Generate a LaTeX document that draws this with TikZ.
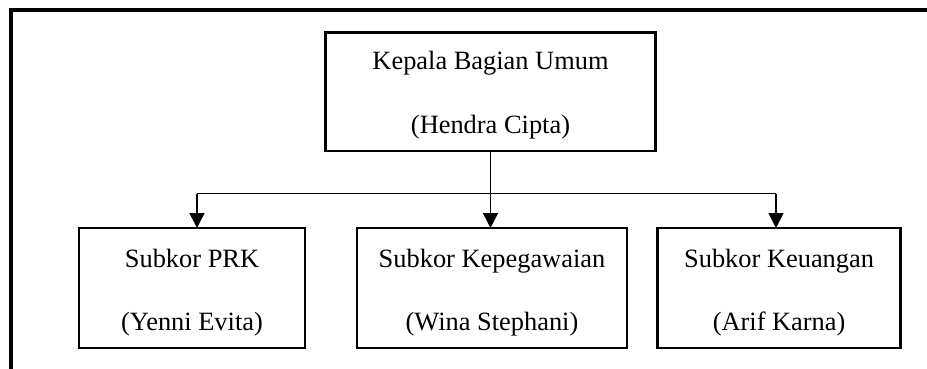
\documentclass[tikz,border=0pt]{standalone}
\usepackage{fontspec}
\setmainfont{Liberation Serif}
\usetikzlibrary{arrows.meta}
\begin{document}
\begin{tikzpicture}[x=1pt,y=-1pt,
  frameline/.style={line width=4pt},
  unitbox/.style={draw,line width=2.6pt,inner sep=0pt,outer sep=0pt},
  label/.style={anchor=base,inner sep=0pt,font=\fontsize{26.4}{30}\selectfont},
  conn/.style={line width=1.5pt},
  arr/.style={conn,-{Triangle[width=15pt,length=15pt]}}]
\useasboundingbox (0,0) rectangle (927,369);
% outer frame
\coordinate (fa) at (11,369);
\coordinate (fb) at (11,10);
\coordinate (fc) at (930,10);
\draw[frameline,line cap=rect] (fa) -- (fb) -- (fc);
% boxes
\node[unitbox,minimum width=330pt,minimum height=118.5pt] (top) at (490.5,91.75) {};
\node[unitbox,minimum width=226pt,minimum height=120pt] (b1) at (192,288) {};
\node[unitbox,minimum width=270pt,minimum height=120pt] (b2) at (492,288) {};
\node[unitbox,minimum width=243.2pt,minimum height=120pt] (b3) at (779.1,288) {};
% texts
\node[label] (t1) at (490.5,70) {Kepala Bagian Umum};
\node[label] (t2) at (490.5,133) {(Hendra Cipta)};
\node[label] (b1a) at (192,267) {Subkor PRK};
\node[label] (b1b) at (192,330) {(Yenni Evita)};
\node[label] (b2a) at (492,267) {Subkor Kepegawaian};
\node[label] (b2b) at (492,330) {(Wina Stephani)};
\node[label] (b3a) at (779.1,267) {Subkor Keuangan};
\node[label] (b3b) at (779.1,330) {(Arif Karna)};
% connectors
\coordinate (jl) at (197,193.5);
\coordinate (jr) at (776,193.5);
\draw[conn] (jl) -- (jr);
\draw[arr] (top.south) -- (top.south |- b2.north);
\draw[arr] (jl) -- (jl |- b1.north);
\draw[arr] (jr) -- (jr |- b3.north);
\end{tikzpicture}
\end{document}
